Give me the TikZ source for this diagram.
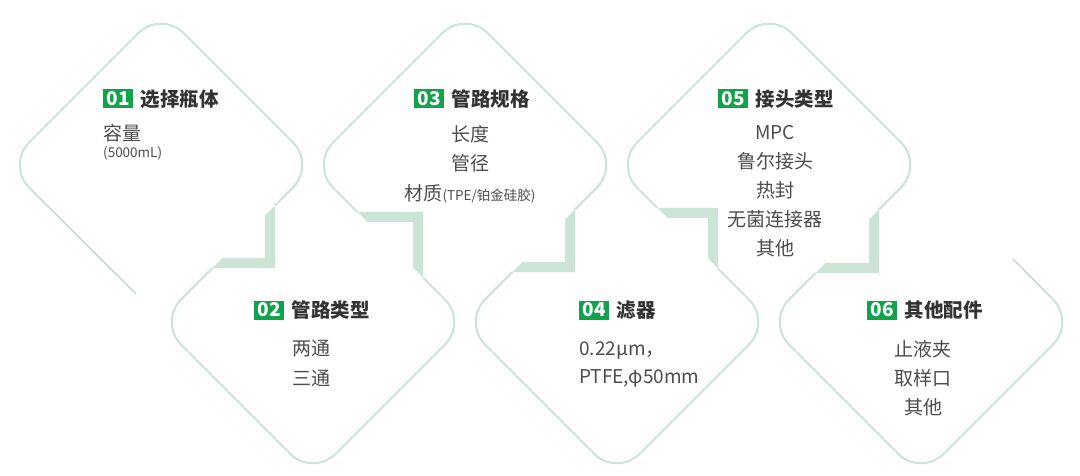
\documentclass[tikz,border=0pt]{standalone}
\usepackage{fontspec}
\setmainfont{Noto Sans CJK SC}
\definecolor{lineg}{RGB}{204,228,214}
\definecolor{badgegreen}{RGB}{16,163,74}
\definecolor{titlegray}{RGB}{51,51,51}
\definecolor{bodygray}{RGB}{77,77,77}
\begin{document}
\begin{tikzpicture}[x=1pt,y=-1pt,
  outline/.style={draw=lineg, line width=2pt, rounded corners=32pt},
  band/.style={fill=lineg, draw=none},
  badge/.style={fill=badgegreen, text=white, font=\fontsize{19}{19}\selectfont\bfseries, inner sep=0pt, minimum width=30pt, minimum height=19pt, anchor=west},
  title/.style={text=titlegray, font=\fontsize{19.5}{20}\selectfont\bfseries, inner sep=0pt, text height=17pt, text depth=2.5pt, anchor=west},
  body/.style={text=bodygray, font=\fontsize{19}{20}\selectfont, inner sep=0pt, text height=16.7pt, text depth=2.3pt},
  small/.style={text=bodygray, font=\fontsize{13.5}{14}\selectfont, inner sep=0pt, text height=10pt, text depth=2pt},
]
\useasboundingbox[fill=white] (0,0) rectangle (1080,476);

% diamond outlines (partial)
\draw[outline] (136,294) -- (6.5,165) -- (161,10.5) -- (315.5,165) -- (275,205.5);
\draw[outline] (212.5,268) -- (158.5,322) -- (313,476.5) -- (467.5,322) -- (423,277.5);
\draw[outline] (357.5,212) -- (310.5,165) -- (465,10.5) -- (619.5,165) -- (575,209.5);
\draw[outline] (512.5,272) -- (462.5,322) -- (617,476.5) -- (771.5,322) -- (718,268.5);
\draw[outline] (657.5,208) -- (614.5,165) -- (769,10.5) -- (923.5,165) -- (879,209.5);
\draw[outline] (815.5,273) -- (766.5,322) -- (921,476.5) -- (1075.5,322) -- (1013,259);

% connector bands
\fill[band] (275,205.5) -- (275,268) -- (212.5,268) -- (222.5,258) -- (265,258) -- (265,215.5) -- cycle;
\fill[band] (357.5,212) -- (423,212) -- (423,277.5) -- (413,267.5) -- (413,222) -- (367.5,222) -- cycle;
\fill[band] (575,209.5) -- (575,272) -- (512.5,272) -- (522.5,262) -- (565,262) -- (565,219.5) -- cycle;
\fill[band] (657.5,208) -- (718,208) -- (718,268.5) -- (708,258.5) -- (708,218) -- (667.5,218) -- cycle;
\fill[band] (879,209.5) -- (879,273) -- (815.5,273) -- (825.5,263) -- (869,263) -- (869,219.5) -- cycle;

% 01
\node[badge] (b1) at (103,99) {01};
\node[title] (h1) at ([xshift=7pt]b1.east) {选择瓶体};
\node[body, anchor=west] (l11) at (103,133) {容量};
\node[small, anchor=west] (l12) at (103,154) {(5000mL)};

% 03
\node[badge] (b3) at (414,99) {03};
\node[title] (h3) at ([xshift=7pt]b3.east) {管路规格};
\node[body] (l31) at (470,134) {长度};
\node[body] (l32) at (470,163) {管径};
\node[body] (l33) at (470,193) {材质{\fontsize{13.5}{14}\selectfont (TPE/铂金硅胶)}};

% 05
\node[badge] (b5) at (718,99) {05};
\node[title] (h5) at ([xshift=7pt]b5.east) {接头类型};
\node[body] (l51) at (775,132) {MPC};
\node[body] (l52) at (775,161) {鲁尔接头};
\node[body] (l53) at (775,190) {热封};
\node[body] (l54) at (775,219) {无菌连接器};
\node[body] (l55) at (775,248) {其他};

% 02
\node[badge] (b2) at (254,310) {02};
\node[title] (h2) at ([xshift=7pt]b2.east) {管路类型};
\node[body] (l21) at (311,348) {两通};
\node[body] (l22) at (311,378) {三通};

% 04
\node[badge] (b4) at (579,310) {04};
\node[title] (h4) at ([xshift=7pt]b4.east) {滤器};
\node[body, anchor=west] (l41) at (579,348) {0.22μm，};
\node[body, anchor=west] (l42) at (579,376) {PTFE,φ50mm};

% 06
\node[badge] (b6) at (867,310) {06};
\node[title] (h6) at ([xshift=7pt]b6.east) {其他配件};
\node[body] (l61) at (923,349) {止液夹};
\node[body] (l62) at (923,378) {取样口};
\node[body] (l63) at (923,407) {其他};
\end{tikzpicture}
\end{document}
